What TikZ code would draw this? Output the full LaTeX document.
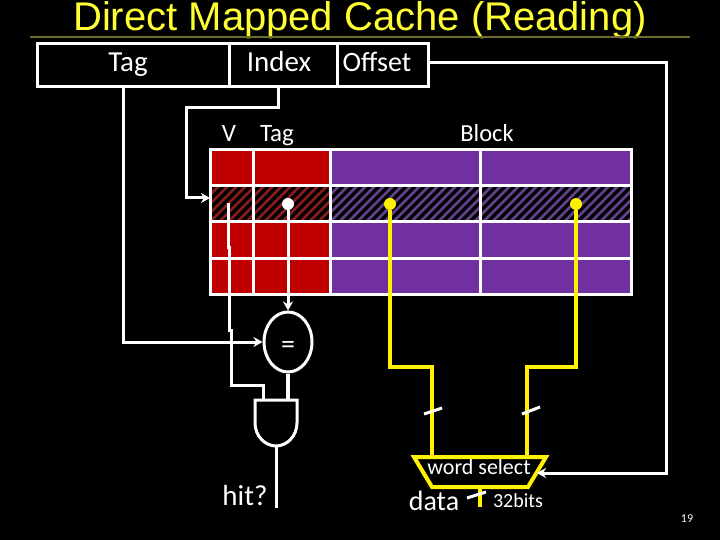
\documentclass[tikz,border=0pt]{standalone}
\usepackage{fontspec}
\setmainfont{Carlito}
\newfontfamily\titlefont{Liberation Sans}
\usetikzlibrary{arrows.meta,calc,shapes.geometric}
\definecolor{cellred}{HTML}{C00000}
\definecolor{cellpurple}{HTML}{7030A0}
\definecolor{hatchred}{HTML}{8A1C1C}
\definecolor{hatchpurple}{HTML}{64428E}
\definecolor{titleyellow}{HTML}{FFFF33}
\definecolor{wireyellow}{HTML}{FFF200}
\definecolor{ruleolive}{HTML}{6E6E2A}
\tikzset{
  x=1pt,y=-1pt,
  lbl/.style={text=white,inner sep=0pt,anchor=base,font=\fontsize{#1}{#1}\selectfont},
  wire/.style={draw=white,line width=3pt,line join=miter},
  ywire/.style={draw=wireyellow,line width=4pt,line join=miter},
  tip/.style={-{Stealth[length=9pt,width=10pt]}},
  slashmark/.style={draw=white,line width=3pt},
  hdrcell/.style={draw=white,line width=3pt,fill=black,minimum height=43pt,inner sep=0pt,anchor=north west},
  gridline/.style={draw=white,line width=3pt},
  wdot/.style={circle,fill=white,inner sep=0pt,minimum size=12pt},
  ydot/.style={circle,fill=wireyellow,inner sep=0pt,minimum size=12pt},
}
\begin{document}
\begin{tikzpicture}
\useasboundingbox (0,0) rectangle (720,540);
\fill[black] (0,0) rectangle (720,540);
% title
\node[text=titleyellow,inner sep=0pt,anchor=base,font=\titlefont\fontsize{40}{40}\selectfont] (title) at (360,31) {Direct Mapped Cache (Reading)};
\coordinate (ruleL) at (30,37); \coordinate (ruleR) at (690,37);
\draw[ruleolive,line width=1.6pt] (ruleL) -- (ruleR);
% cache fills
\fill[cellred] (210,150) rectangle (330,294);
\fill[cellpurple] (330,150) rectangle (631,294);
\fill[black] (210,186) rectangle (631,222);
\begin{scope}
\clip (210,186) rectangle (330,222);
\foreach \xx in {170,179,...,340}{\draw[hatchred,line width=2.6pt] (\xx,226)--(\xx+44,182);}
\end{scope}
\begin{scope}
\clip (330,186) rectangle (631,222);
\foreach \xx in {290,299,...,640}{\draw[hatchpurple,line width=2.6pt] (\xx,226)--(\xx+44,182);}
\end{scope}
% grid
\draw[gridline] (210,150) rectangle (631,294);
\foreach \yy in {186,222,258}{\draw[gridline] (210,\yy)--(631,\yy);}
\foreach \xx in {330,480}{\draw[gridline] (\xx,150)--(\xx,294);}
\draw[gridline] (253,148)--(253,294);
% address box
\node[hdrcell,minimum width=192pt] (tagcell) at (36,42) {};
\node[hdrcell,minimum width=108pt] (indexcell) at (228,42) {};
\node[hdrcell,minimum width=91pt] (offsetcell) at (336,42) {};
\node[lbl=29] (tagt) at (128,72) {Tag};
\node[lbl=29] (indext) at (279,72) {Index};
\node[lbl=28] (offt) at (377,72) {Offset};
\node[lbl=25] (vt) at (229,142) {V};
\node[lbl=25] (tagh) at (277,142) {Tag};
\node[lbl=24.5] (blockh) at (487,142) {Block};
% comparator
\node[draw=white,line width=3pt,ellipse,minimum width=48pt,minimum height=60pt,inner sep=0pt,fill=black] (eq) at (288,342) {};
\node[lbl=28] (eqsign) at (288,353) {=};
% dots
\node[wdot] (tagdot) at (288,204) {};
\node[ydot] (ydotA) at (390,204) {};
\node[ydot] (ydotB) at (576,204) {};
\coordinate (vstart) at (228,203);
% AND gate
\coordinate (andTL) at (255,400); \coordinate (andTR) at (297,400);
\coordinate (andB) at (276,446);
\draw[wire,fill=black] (andTL) -- (255,423) .. controls (255,436) and (265,446) .. (andB) .. controls (287,446) and (297,436) .. (297,423) -- (andTR) -- cycle;
% white wires
\coordinate (tagbend) at (123,342);
\coordinate (tagout) at (123,85);
\draw[wire,tip] (tagout) -- (tagbend) -- (eq.west);
\coordinate (idxout) at (278,85);
\coordinate (idxA) at (278,108); \coordinate (idxB) at (186,108); \coordinate (idxC) at (186,198); \coordinate (idxT) at (210,198);
\draw[wire,tip] (idxout) -- (idxA) -- (idxB) -- (idxC) -- (idxT);
\draw[wire,tip] (tagdot) -- (eq.north);
\coordinate (andIn1) at (263,400);
\draw[wire] (vstart) -- (228,247) -- (229.5,247) -- (229.5,330) -- (231,330) -- (231,385) -- (263,385) -- (andIn1);
\coordinate (andIn2) at (288,400);
\draw[wire,line width=3.6pt] (eq.south) -- (andIn2);
\coordinate (hitEnd) at (276,508);
\draw[wire] (andB) -- (hitEnd);
\node[lbl=29] (hit) at (245,505) {hit?};
% yellow wires and mux
\coordinate (muxTL) at (414,457); \coordinate (muxTR) at (546,457);
\coordinate (muxBR) at (528,487); \coordinate (muxBL) at (432,487);
\coordinate (muxA) at (432,457); \coordinate (muxB) at (527,457);
\draw[ywire] (ydotA) -- (390,367) -- (432,367) -- (muxA);
\draw[ywire] (ydotB) -- (576,367) -- (527,367) -- (muxB);
\draw[ywire] (muxTL) -- (muxTR) -- (muxBR) -- (muxBL) -- cycle;
\coordinate (muxOut) at (480,487); \coordinate (dataEnd) at (480,507);
\draw[ywire] (muxOut) -- (dataEnd);
\coordinate (sA1) at (424,414); \coordinate (sA2) at (442,408);
\coordinate (sB1) at (522,414); \coordinate (sB2) at (540,407);
\coordinate (sC1) at (467,498); \coordinate (sC2) at (486,492);
\draw[slashmark] (sA1) -- (sA2);
\draw[slashmark] (sB1) -- (sB2);
\draw[slashmark] (sC1) -- (sC2);
\node[lbl=22] (ws) at (479,474) {word select};
\node[lbl=28] (data) at (434,510) {data};
\node[lbl=20] (bits) at (518,507) {32bits};
\coordinate (offout) at (427,63); \coordinate (offA) at (666,63); \coordinate (offB) at (666,473); \coordinate (offT) at (537,473);
\draw[wire,tip] (offout) -- (offA) -- (offB) -- (offT);
\node[lbl=12] (page) at (687,522) {19};
\end{tikzpicture}
\end{document}
